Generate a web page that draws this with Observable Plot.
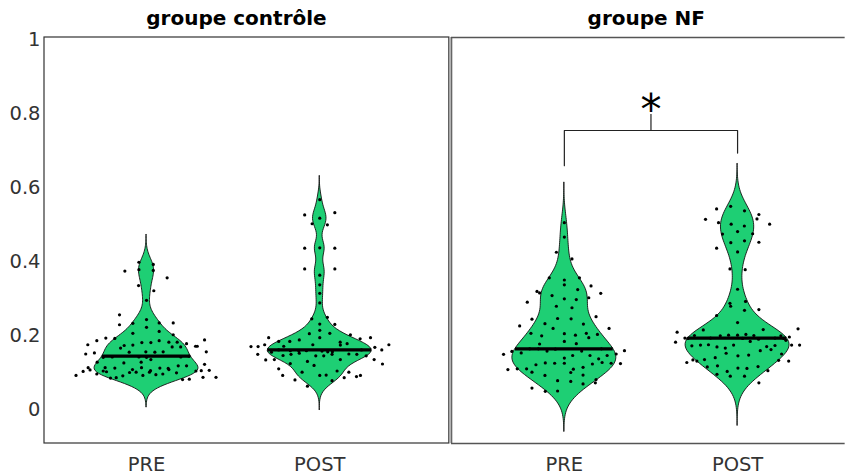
<!DOCTYPE html>
<html><head><meta charset="utf-8">
<script src="https://cdn.jsdelivr.net/npm/d3@7"></script>
<script src="https://cdn.jsdelivr.net/npm/@observablehq/plot@0.6"></script>
<style>
html,body{margin:0;padding:0;background:#fff;overflow:hidden;}
#chart svg{display:block;}
</style></head><body><div id="chart"></div>
<script>
// ---------- data ----------
const groups = ["groupe contrôle", "groupe NF"];
const conditions = ["PRE", "POST"];
const yTicks = [0, 0.2, 0.4, 0.6, 0.8, 1];
const significanceLabel = "*";

const ctrlPreValues = [0.398,0.392,0.374,0.378,0.376,0.356,0.335,0.321,0.295,0.256,0.229,0.233,0.243,0.234,0.234,0.222,0.206,0.211,0.202,0.193,0.186,0.192,0.175,0.173,0.174,0.181,0.181,0.186,0.182,0.182,0.178,0.171,0.171,0.188,0.150,0.153,0.166,0.155,0.156,0.155,0.156,0.169,0.169,0.156,0.141,0.142,0.142,0.141,0.135,0.142,0.144,0.128,0.126,0.128,0.113,0.112,0.108,0.113,0.105,0.112,0.111,0.118,0.118,0.122,0.113,0.107,0.103,0.092,0.096,0.104,0.102,0.085,0.086,0.091,0.100,0.101,0.092,0.101,0.094,0.096,0.108,0.099,0.081,0.082,0.104,0.105,0.106,0.087,0.087];
const ctrlPreJitter = [-0.044,0.039,-0.125,-0.044,0.039,0.119,-0.046,0.042,0,-0.156,-0.156,-0.079,0,0.073,0.154,0,-0.079,0.073,0.154,-0.235,-0.287,-0.183,-0.339,-0.129,-0.079,-0.027,0.025,0.073,0.129,0.177,0.231,0.283,0.293,0.335,-0.351,-0.301,-0.150,-0.100,-0.004,0.048,0.096,0.148,0.197,0.345,-0.250,-0.198,-0.044,0,0.025,0.198,0.245,-0.285,-0.131,-0.031,-0.239,-0.183,-0.081,-0.029,0.023,0.077,0.125,0.183,0.231,0.335,-0.337,-0.326,-0.366,-0.407,-0.287,-0.250,-0.231,-0.208,-0.175,-0.137,-0.098,-0.060,-0.021,0.017,0.054,0.094,0.129,0.173,0.208,0.247,0.285,0.316,0.362,0.326,0.401];

const ctrlPostValues = [0.567,0.526,0.532,0.517,0.502,0.499,0.436,0.437,0.436,0.380,0.380,0.363,0.337,0.314,0.288,0.245,0.249,0.230,0.231,0.214,0.206,0.205,0.194,0.202,0.191,0.194,0.194,0.184,0.184,0.188,0.182,0.178,0.170,0.170,0.175,0.171,0.175,0.174,0.168,0.161,0.175,0.149,0.155,0.161,0.159,0.158,0.159,0.146,0.149,0.152,0.145,0.158,0.145,0.156,0.156,0.149,0.150,0.149,0.161,0.134,0.135,0.135,0.145,0.135,0.123,0.130,0.124,0.119,0.110,0.092,0.101,0.104,0.101,0.092,0.093,0.089,0.092,0.086,0.080,0.078,0.063];
const ctrlPostJitter = [0,-0.087,0.087,0,-0.044,0.044,-0.087,0,0.087,-0.087,0.087,0,0,0,0,-0.046,0.044,0.087,0,0,0.058,-0.060,0,0.177,0.233,0.293,-0.295,-0.237,-0.173,-0.118,0.118,0.158,-0.397,-0.356,-0.318,-0.208,-0.040,0.119,0.318,0.358,0.399,-0.358,-0.279,-0.237,-0.170,-0.121,-0.077,-0.212,-0.166,-0.118,-0.023,0.013,0.023,0.046,0.073,0.071,0.168,0.214,0.241,-0.312,-0.262,0.119,0.268,0.314,0.362,-0.071,-0.170,-0.033,-0.237,-0.214,-0.102,0.100,0.168,0,0.037,0.212,0.235,0.141,-0.143,0.071,-0.071];

const nfPreValues = [0.505,0.466,0.425,0.407,0.356,0.350,0.356,0.337,0.334,0.319,0.315,0.324,0.314,0.308,0.302,0.290,0.299,0.297,0.279,0.275,0.251,0.244,0.246,0.245,0.226,0.232,0.231,0.219,0.219,0.206,0.205,0.201,0.206,0.199,0.194,0.203,0.184,0.178,0.177,0.153,0.164,0.164,0.158,0.163,0.149,0.157,0.158,0.164,0.146,0.150,0.159,0.139,0.146,0.146,0.137,0.126,0.125,0.125,0.121,0.114,0.123,0.127,0.125,0.124,0.109,0.108,0.110,0.110,0.101,0.100,0.092,0.093,0.081,0.078,0.076,0.069,0.072,0.058,0.049,0.050];
const nfPreJitter = [0,0,-0.046,0.044,-0.087,0,0.087,0,0.154,-0.158,-0.143,0.077,0.210,-0.071,0.141,-0.214,0,0.069,-0.046,0.044,0.183,-0.187,-0.039,0.039,-0.258,-0.112,0.110,-0.065,0.258,-0.193,0,0.064,0.127,-0.131,0.141,0.191,0,0.069,-0.143,-0.249,-0.200,-0.150,-0.100,-0.052,-0.351,-0.303,0.100,0.214,0.247,0.299,0.347,0,0.048,0.148,0.198,-0.110,-0.056,0,-0.164,0.108,0.162,0.218,0.270,0.324,0.052,-0.326,-0.272,-0.218,-0.187,0.037,-0.112,0.108,0.183,-0.039,0.037,0.108,0.179,-0.187,-0.110,-0.039];

const nfPostValues = [0.549,0.542,0.537,0.527,0.515,0.514,0.505,0.501,0.501,0.496,0.481,0.474,0.475,0.456,0.451,0.452,0.436,0.426,0.380,0.378,0.325,0.287,0.279,0.292,0.268,0.270,0.254,0.235,0.215,0.216,0.209,0.218,0.200,0.199,0.201,0.201,0.203,0.200,0.199,0.193,0.192,0.182,0.193,0.192,0.184,0.190,0.193,0.192,0.196,0.187,0.172,0.174,0.175,0.169,0.166,0.174,0.170,0.173,0.162,0.159,0.174,0.174,0.152,0.145,0.147,0.150,0.127,0.134,0.131,0.135,0.140,0.133,0.131,0.115,0.118,0.103,0.112,0.111,0.116,0.105,0.095,0.090,0.090,0.072];
const nfPostJitter = [-0.040,-0.121,0.040,0.123,0.112,-0.185,-0.110,0.185,-0.037,0.039,0,-0.087,0.087,0.040,-0.039,0.123,-0.121,0,-0.044,0.044,0,-0.044,-0.040,0.046,0.040,0.123,-0.121,0,-0.198,0.148,-0.349,0.349,-0.249,-0.100,-0.052,0,0.048,0.094,0.250,-0.304,-0.287,-0.358,-0.156,0.029,0.073,0.121,0.216,0.266,0.299,0.279,-0.264,-0.214,-0.168,-0.119,-0.071,-0.023,0.168,0.216,0.193,0.131,0.312,0.358,-0.066,0.002,0.064,0.254,-0.293,-0.258,-0.235,-0.191,-0.129,0.237,0.295,-0.175,-0.116,-0.060,0.002,0.054,0.118,0.175,-0.119,-0.042,0.040,0.123];

// ---------- layout constants ----------
const GREEN = "#1ecf74";
const AXIS = "#333";
const groupGap = 2.412;          // distance between panels in category units
const violinWidth = 0.3;         // half-width at max density
const pos = (g, c) => 1 + g * groupGap + c;
const xDomain = [0.411, 5.035];
const yDomain = [-0.0919, 1.0054];

const series = [
  {g: 0, c: 0, values: ctrlPreValues, jitter: ctrlPreJitter},
  {g: 0, c: 1, values: ctrlPostValues, jitter: ctrlPostJitter},
  {g: 1, c: 0, values: nfPreValues, jitter: nfPreJitter},
  {g: 1, c: 1, values: nfPostValues, jitter: nfPostJitter}
];

// ---------- kernel density (MATLAB-like default bandwidth) ----------
const violinPts = [], dots = [], medians = [];
series.forEach((s, k) => {
  const v = s.values, n = v.length;
  const med = d3.median(v);
  const mad = d3.median(v, d => Math.abs(d - med));
  const bw = (mad / 0.6745) * Math.pow(4 / (3 * n), 0.2);
  const lo = d3.min(v) - 3 * bw, hi = d3.max(v) + 3 * bw;
  const dens = y => d3.sum(v, d => Math.exp(-0.5 * ((y - d) / bw) ** 2));
  const ys = d3.range(120).map(i => lo + (hi - lo) * i / 119);
  const ds = ys.map(dens);
  const dmax = d3.max(ds);
  const cx = pos(s.g, s.c);
  ys.forEach((y, i) => {
    const w = violinWidth * ds[i] / dmax;
    violinPts.push({key: k, y, x1: cx - w, x2: cx + w});
  });
  const wm = violinWidth * dens(med) / dmax;
  medians.push({y: med, x1: cx - wm, x2: cx + wm});
  const m = Math.min(n, s.jitter.length);
  for (let i = 0; i < m; i++) dots.push({x: cx + s.jitter[i], y: v[i]});
});

// ---------- panels / annotation ----------
const panelEdges = [[xDomain[0], 2.748], [2.760, xDomain[1] - 0.002]];
const bracketY = 0.754, bracketLegL = 0.659, bracketLegR = 0.693, bracketTop = 0.797, starY = 0.772;
const bx1 = pos(1, 0), bx2 = pos(1, 1), bmid = (bx1 + bx2) / 2;
const bracket = [
  {x: bx1, y: bracketLegL}, {x: bx1, y: bracketY}, {x: bx2, y: bracketY}, {x: bx2, y: bracketLegR}
];
const titleY = 1.038;
const titles = [
  {x: pos(0, 0) + 0.519, y: titleY, text: groups[0]},
  {x: pos(1, 0) + 0.473, y: titleY, text: groups[1]}
];
const xTickPos = [], xTickLab = new Map();
groups.forEach((g, gi) => conditions.forEach((c, ci) => { const p = pos(gi, ci); xTickPos.push(p); xTickLab.set(p, c); }));

const chart = Plot.plot({
  width: 845, height: 475,
  marginLeft: 44, marginRight: 0, marginTop: 37, marginBottom: 32,
  style: {fontFamily: "'DejaVu Sans', Verdana, sans-serif", fontSize: "19.5px", background: "#fff"},
  x: {domain: xDomain, label: null},
  y: {domain: yDomain, label: null},
  marks: [
    Plot.areaX(violinPts, {y: "y", x1: "x1", x2: "x2", z: "key", fill: GREEN, stroke: "#111", strokeWidth: 0.9, curve: "linear"}),
    Plot.dot(dots, {x: "x", y: "y", r: 1.6, fill: "#000", stroke: null}),
    Plot.ruleY(medians, {y: "y", x1: "x1", x2: "x2", stroke: "#000", strokeWidth: 3.2}),
    // panel frames
    Plot.rect([panelEdges[0]], {x1: d => d[0], x2: d => d[1], y1: yDomain[0], y2: yDomain[1], fill: "none", stroke: "#333", strokeWidth: 1.2}),
    Plot.ruleX([panelEdges[1][0]], {y1: yDomain[0], y2: yDomain[1], stroke: "#666", strokeWidth: 1.8}),
    Plot.ruleY([yDomain[0], yDomain[1]], {x1: panelEdges[1][0], x2: panelEdges[1][1], stroke: "#555", strokeWidth: 1.6}),
    // significance bracket
    Plot.line(bracket, {x: "x", y: "y", stroke: "#222", strokeWidth: 1.2}),
    Plot.ruleX([bmid], {y1: bracketY, y2: bracketTop, stroke: "#222", strokeWidth: 1.2}),
    Plot.text([significanceLabel], {x: bmid, y: starY, text: d => d, fontSize: 42, lineAnchor: "bottom", fill: "#000"}),
    // titles
    Plot.text(titles, {x: "x", y: "y", text: "text", fontWeight: "bold", fontSize: 20, lineAnchor: "bottom", fill: "#000"}),
    // axes
    Plot.axisY(yTicks, {tickSize: 0, tickPadding: 4, tickFormat: d3.format("~g"), fill: AXIS, fontSize: 19.5}),
    Plot.axisX(xTickPos, {tickSize: 0, tickPadding: 14, tickFormat: d => xTickLab.get(d), fill: AXIS, fontSize: 19.5})
  ]
});
document.getElementById("chart").appendChild(chart);
</script>
</body></html>
